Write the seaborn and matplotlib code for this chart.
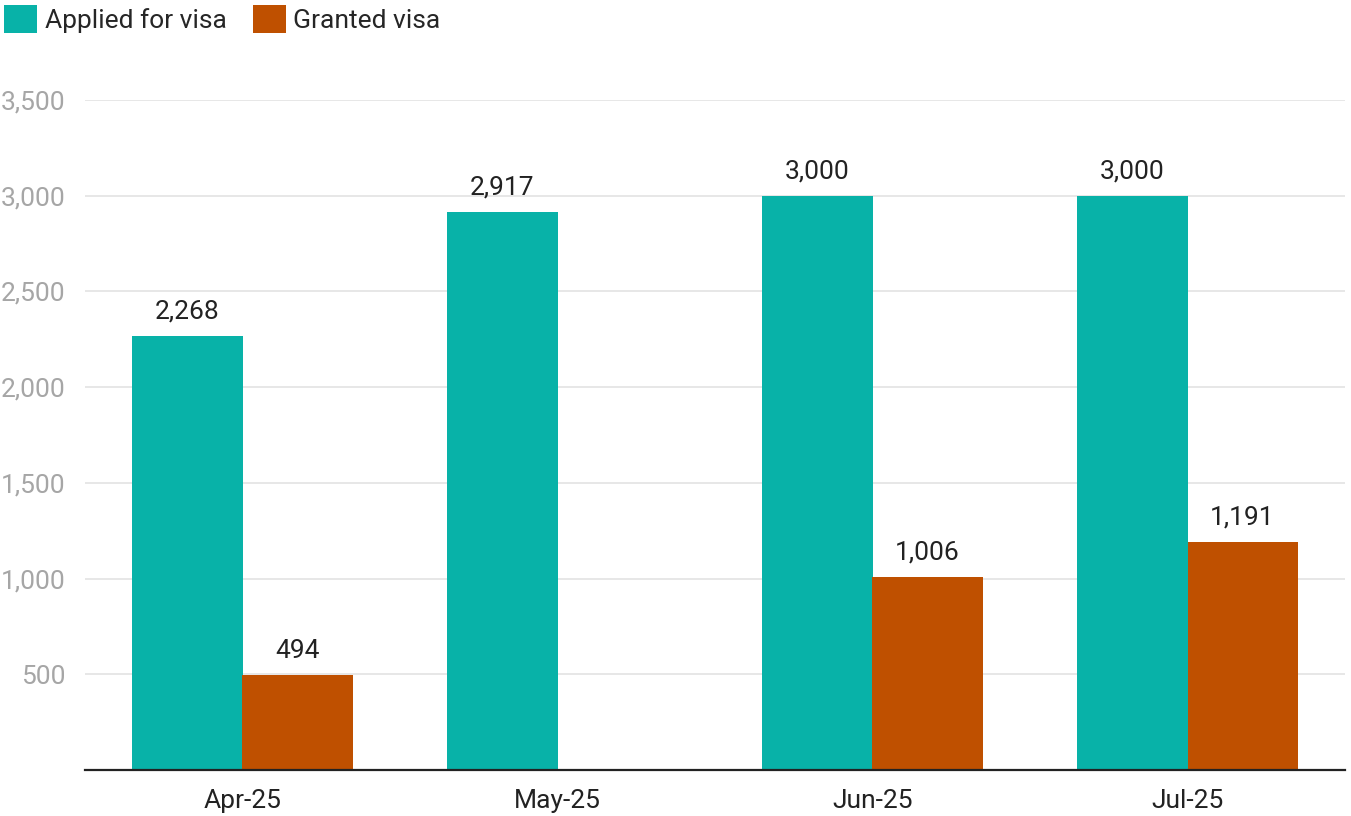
import matplotlib
matplotlib.use("Agg")
import matplotlib.pyplot as plt
import seaborn as sns
import pandas as pd
import numpy as np
from matplotlib.patches import Patch

months = ["Apr-25", "May-25", "Jun-25", "Jul-25"]
applied = [2268, 2917, 3000, 3000]
granted = [494, np.nan, 1006, 1191]
series_names = ["Applied for visa", "Granted visa"]
colors = ["#08B2A8", "#BF5000"]
yticks = [500, 1000, 1500, 2000, 2500, 3000, 3500]

df = pd.DataFrame({
    "month": months * 2,
    "value": applied + granted,
    "series": [series_names[0]] * 4 + [series_names[1]] * 4,
})

sns.set_theme(style="white")
plt.rcParams["font.family"] = ["Roboto", "DejaVu Sans"]

fig = plt.figure(figsize=(13.51, 8.16), dpi=100)
ax = fig.add_axes([85 / 1351, 46 / 816, (1345 - 85) / 1351, (770 - 100) / 816])

sns.barplot(data=df, x="month", y="value", hue="series", order=months,
            hue_order=series_names, palette=colors, width=0.7, saturation=1,
            dodge=True, ax=ax, legend=False, linewidth=0)

for c in ax.containers:
    labels = []
    for v in c.datavalues:
        labels.append("" if np.isnan(v) else f"{v:,.0f}")
    ax.bar_label(c, labels=labels, padding=9, fontsize=19, color="#222222")

ax.set_xlim(-0.5, 3.5)
ax.set_ylim(0, 3500)
ax.set_yticks(yticks)
ax.set_yticklabels([f"{t:,}" for t in yticks])
ax.yaxis.grid(True, color="#e3e3e3", linewidth=1.2)
ax.set_axisbelow(True)
ax.set_xlabel("")
ax.set_ylabel("")
for s in ["top", "right", "left"]:
    ax.spines[s].set_visible(False)
ax.spines["bottom"].set_color("#222222")
ax.spines["bottom"].set_linewidth(1.6)
ax.tick_params(axis="y", length=0, labelsize=19, labelcolor="#a6a6a6", pad=14)
ax.tick_params(axis="x", length=0, labelsize=19, labelcolor="#222222", pad=14)

handles = [Patch(facecolor=c, edgecolor="none") for c in colors]
fig.legend(handles, series_names, loc="upper left", bbox_to_anchor=(-0.0085, 1.013),
           ncol=2, frameon=False, fontsize=19, handlelength=1.25, handleheight=1.25,
           handletextpad=0.28, columnspacing=1.0, borderaxespad=0.2)

fig.savefig("out.png", dpi=100)
